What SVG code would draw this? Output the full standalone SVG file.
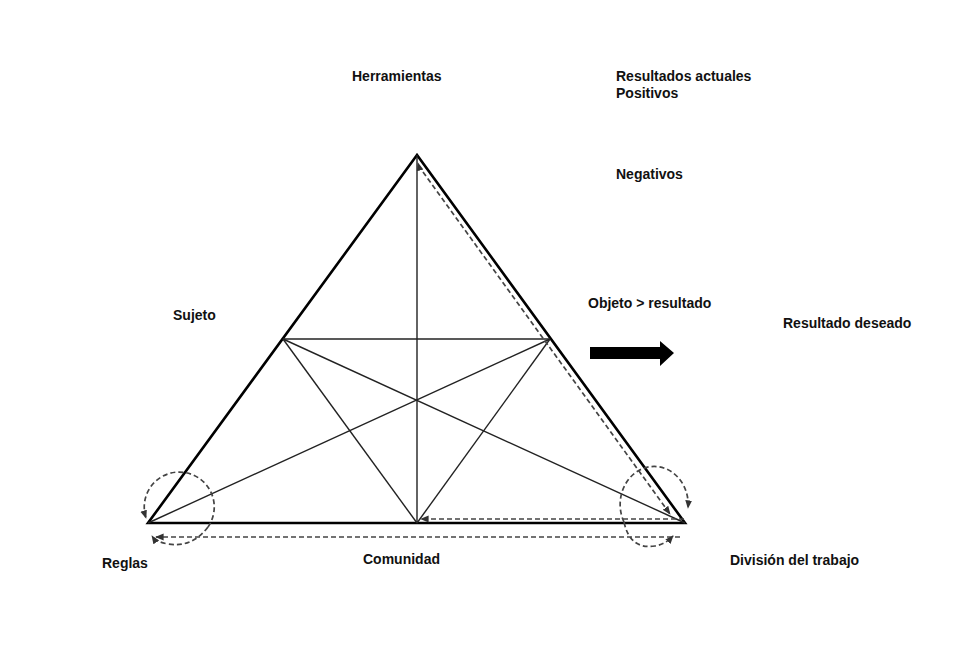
<svg xmlns="http://www.w3.org/2000/svg" width="976" height="657" viewBox="0 0 976 657">
<style>
text{font-family:"Liberation Sans",Arial,sans-serif;font-weight:bold;font-size:14px;fill:#111}
.outer{fill:none;stroke:#000;stroke-width:2.6}
.inner{fill:none;stroke:#222;stroke-width:1.4}
.dash{fill:none;stroke:#444;stroke-width:1.7;stroke-dasharray:5,3}
</style>
<defs>
<marker id="ah" viewBox="0 0 10 10" refX="9" refY="5" markerWidth="5" markerHeight="5" orient="auto"><path d="M0,1 L10,5 L0,9 Z" fill="#333"/></marker>
</defs>
<rect width="976" height="657" fill="#fff"/>
<g id="triangle">
<polygon class="outer" points="417,155 148,523 685,523"/>
</g>
<g id="connectors">
<line class="inner" x1="283" y1="339" x2="550" y2="339"/>
<line class="inner" x1="417" y1="155" x2="417" y2="523"/>
<line class="inner" x1="283" y1="339" x2="417" y2="523"/>
<line class="inner" x1="550" y1="339" x2="417" y2="523"/>
<line class="inner" x1="148" y1="523" x2="550" y2="339"/>
<line class="inner" x1="685" y1="523" x2="283" y2="339"/>
<line class="dash" x1="423" y1="172" x2="670" y2="514" marker-end="url(#ah)"/>
<line class="dash" x1="420" y1="170" x2="418" y2="163" marker-end="url(#ah)"/>
<line class="dash" x1="684" y1="519" x2="421" y2="519" marker-end="url(#ah)"/>
<line class="dash" x1="680" y1="537" x2="156" y2="537" marker-end="url(#ah)"/>
<path class="dash" d="M208,527 A35,35 0 1 0 146,518" marker-end="url(#ah)"/>
<path class="dash" d="M208,527 Q192,548 168,544 Q156,542 152,536" marker-end="url(#ah)"/>
<path class="dash" d="M624,522 A34,38 0 1 1 688,508" marker-end="url(#ah)"/>
<path class="dash" d="M624,522 Q630,550 655,546 Q666,544 673,536" marker-end="url(#ah)"/>
</g>
<g id="arrow">
<polygon points="590,347 660,347 660,341 674,353 660,366 660,359 590,359" fill="#000"/>
</g>
<g id="labels">
<text x="352" y="81">Herramientas</text>
<text x="616" y="81">Resultados actuales</text>
<text x="616" y="98">Positivos</text>
<text x="616" y="179">Negativos</text>
<text x="173" y="320">Sujeto</text>
<text x="588" y="308">Objeto &gt; resultado</text>
<text x="783" y="328">Resultado deseado</text>
<text x="102" y="568">Reglas</text>
<text x="363" y="564">Comunidad</text>
<text x="730" y="565">División del trabajo</text>
</g>
</svg>
